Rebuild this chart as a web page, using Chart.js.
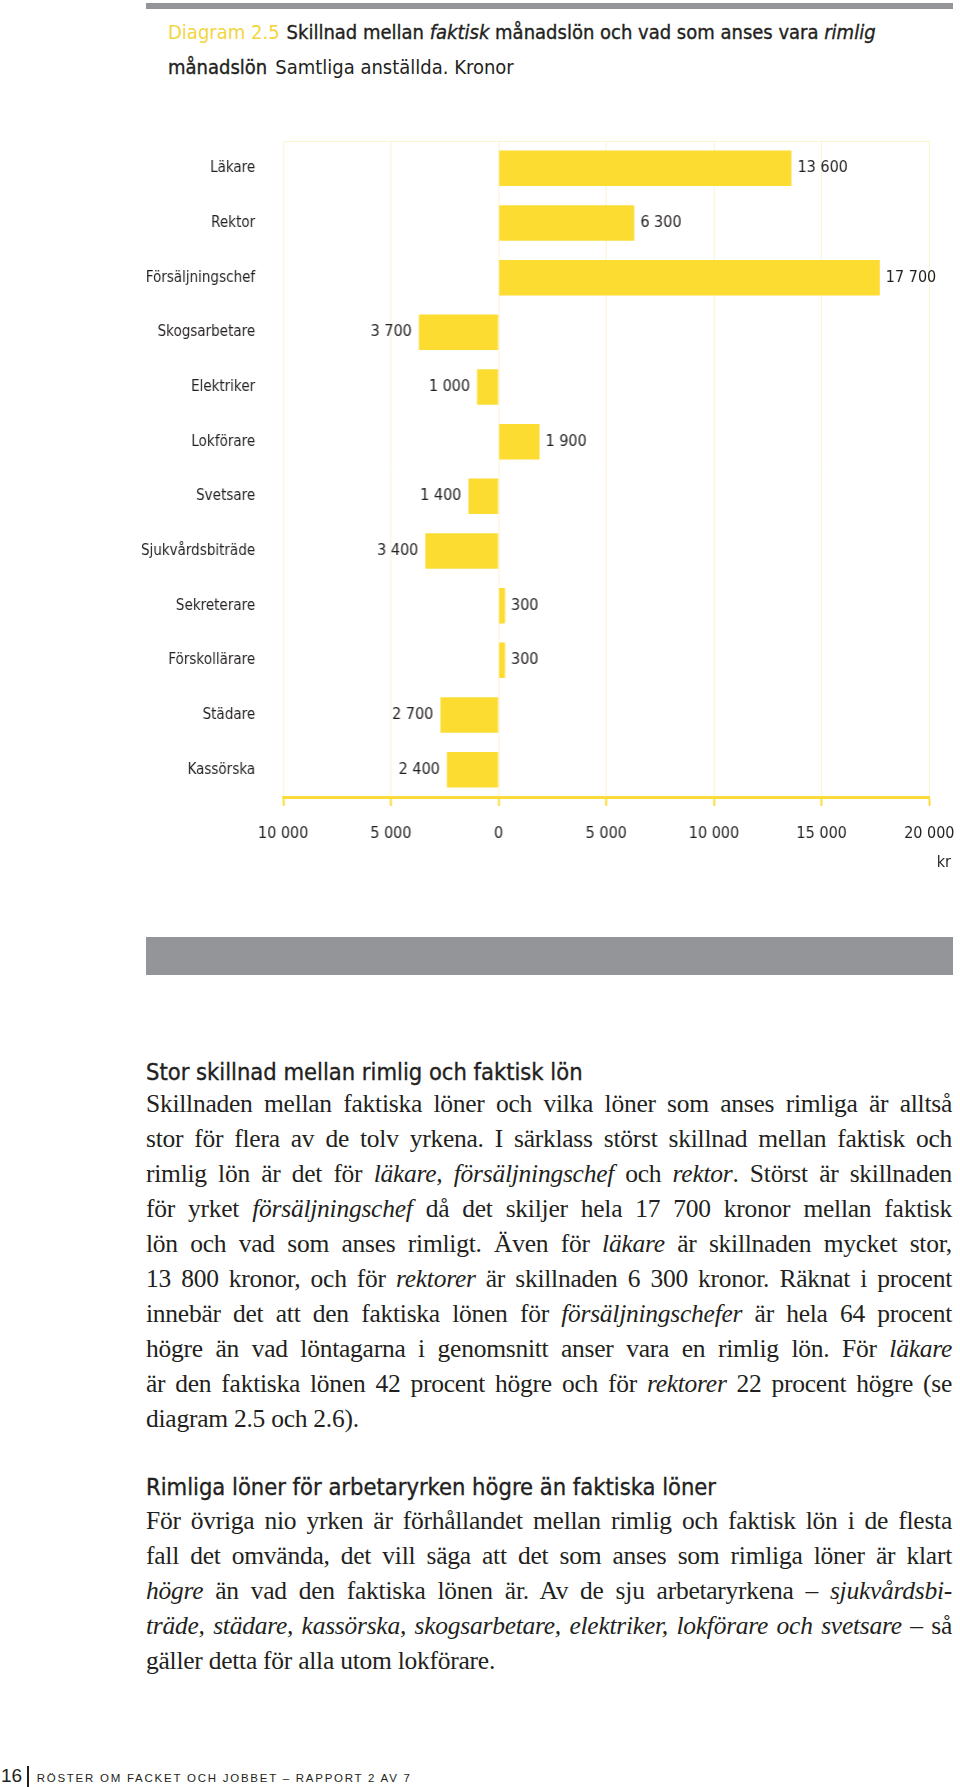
<!DOCTYPE html>
<html lang="sv">
<head>
<meta charset="utf-8">
<title>Diagram 2.5</title>
<script src="https://cdn.jsdelivr.net/npm/chart.js@4.4.0/dist/chart.umd.min.js"></script>
<style>
  html, body { margin: 0; padding: 0; background: #fff; }
  body {
    width: 960px; height: 1787px; position: relative; overflow: hidden;
    font-family: "Liberation Sans Narrow", "DejaVu Sans Condensed", "Liberation Sans", sans-serif;
    color: #231f20;
  }
  .bar-top { position: absolute; left: 146px; top: 3px; width: 807px; height: 6px; background: #939598; }
  .bar-mid { position: absolute; left: 146px; top: 937px; width: 807px; height: 38px; background: #939598; }
  .title { position: absolute; left: 168px; top: 15px; font-size: 20px; line-height: 35px; white-space: nowrap; }
  .title .num { color: #f3d53e; margin-right: 7px; }
  .title .strong { color: #231f20; -webkit-text-stroke: 0.35px #231f20; }
  .title .sub { margin-left: 8px; }
  .chart-wrap { position: absolute; left: 100px; top: 100px; width: 871.5px; height: 790px; }
  .unit { position: absolute; right: 9px; top: 852px; font-size: 16px; }
  .head { position: absolute; left: 146px; font-size: 23.5px; line-height: 35px; white-space: nowrap; color: #231f20; -webkit-text-stroke: 0.35px #231f20; }
  .body { position: absolute; left: 146px; width: 806px; font-family: "Liberation Serif", "DejaVu Serif", serif; font-size: 25.5px; letter-spacing: -0.25px; line-height: 35px; color: #231f20; }
  .body div { white-space: nowrap; text-align: justify; text-align-last: justify; }
  .body div.last { text-align-last: left; }
  .footer { position: absolute; left: 1px; top: 1763px; font-size: 11.5px; line-height: 26px; white-space: nowrap; color: #231f20; font-family: "Liberation Sans", sans-serif; }
  .footer .page { font-size: 19px; }
  .footer .sep { display: inline-block; width: 1.5px; height: 22px; background: #231f20; vertical-align: -6px; margin: 0 8px 0 5px; }
  .footer .run { letter-spacing: 1.75px; }
</style>
</head>
<body>
<div class="bar-top"></div>
<div class="title">
  <div><span class="num">Diagram 2.5</span><span class="strong">Skillnad mellan <i>faktisk</i> månadslön och vad som anses vara <i>rimlig</i></span></div>
  <div><span class="strong">månadslön</span><span class="sub">Samtliga anställda. Kronor</span></div>
</div>

<div class="chart-wrap"><canvas id="diffChart"></canvas></div>
<div class="unit">kr</div>

<div class="bar-mid"></div>

<div class="head" style="top:1055px">Stor skillnad mellan rimlig och faktisk lön</div>
<div class="body" style="top:1086px">
  <div>Skillnaden mellan faktiska löner och vilka löner som anses rimliga är alltså</div>
  <div>stor för flera av de tolv yrkena. I särklass störst skillnad mellan faktisk och</div>
  <div>rimlig lön är det för <i>läkare, försäljningschef</i> och <i>rektor</i>. Störst är skillnaden</div>
  <div>för yrket <i>försäljningschef</i> då det skiljer hela 17 700 kronor mellan faktisk</div>
  <div>lön och vad som anses rimligt. Även för <i>läkare</i> är skillnaden mycket stor,</div>
  <div>13 800 kronor, och för <i>rektorer</i> är skillnaden 6 300 kronor. Räknat i procent</div>
  <div>innebär det att den faktiska lönen för <i>försäljningschefer</i> är hela 64 procent</div>
  <div>högre än vad löntagarna i genomsnitt anser vara en rimlig lön. För <i>läkare</i></div>
  <div>är den faktiska lönen 42 procent högre och för <i>rektorer</i> 22 procent högre (se</div>
  <div class="last">diagram 2.5 och 2.6).</div>
</div>

<div class="head" style="top:1470px">Rimliga löner för arbetaryrken högre än faktiska löner</div>
<div class="body" style="top:1503px">
  <div>För övriga nio yrken är förhållandet mellan rimlig och faktisk lön i de flesta</div>
  <div>fall det omvända, det vill säga att det som anses som rimliga löner är klart</div>
  <div><i>högre</i> än vad den faktiska lönen är. Av de sju arbetaryrkena – <i>sjukvårdsbi-</i></div>
  <div><i>träde, städare, kassörska, skogsarbetare, elektriker, lokförare och svetsare</i> – så</div>
  <div class="last">gäller detta för alla utom lokförare.</div>
</div>

<div class="footer"><span class="page">16</span><span class="sep"></span><span class="run">RÖSTER OM FACKET OCH JOBBET – RAPPORT 2 AV 7</span></div>

<script>
// Yrken (uppifrån och ned)
const yrken = [
  "Läkare", "Rektor", "Försäljningschef", "Skogsarbetare", "Elektriker", "Lokförare",
  "Svetsare", "Sjukvårdsbiträde", "Sekreterare", "Förskollärare", "Städare", "Kassörska"
];

// Skillnad faktisk minus rimlig månadslön, kronor (negativ = rimlig lön högre)
const skillnad = [13600, 6300, 17700, -3700, -1000, 1900, -1400, -3400, 300, 300, -2700, -2400];

// X-axelns skala
const axelMin = -10000;
const axelMax = 20000;
const axelSteg = 5000;

const chartFont = '"Liberation Sans Narrow", "DejaVu Sans Condensed", "Liberation Sans", sans-serif';
const gul = "#fddc32";
const gulAxel = "#f9dc3c";
const gulRutnat = "#fcf3cf";

// 13600 -> "13 600"
function formatKr(n) {
  return String(n).replace(/\B(?=(\d{3})+(?!\d))/g, " ");
}

// Draw the value next to each bar end
const barLabels = {
  id: "barLabels",
  afterDatasetsDraw(chart) {
    const ctx = chart.ctx;
    const meta = chart.getDatasetMeta(0);
    ctx.save();
    ctx.font = "16px " + chartFont;
    ctx.fillStyle = "#231f20";
    ctx.textBaseline = "middle";
    meta.data.forEach((bar, i) => {
      const v = skillnad[i];
      const txt = formatKr(Math.abs(v));
      if (v >= 0) {
        ctx.textAlign = "left";
        ctx.fillText(txt, bar.x + 6, bar.y);
      } else {
        ctx.textAlign = "right";
        ctx.fillText(txt, bar.x - 7, bar.y);
      }
    });
    ctx.restore();
  },
};

Chart.defaults.font.family = chartFont;
Chart.defaults.color = "#231f20";

const ctx = document.getElementById("diffChart").getContext("2d");
new Chart(ctx, {
  type: "bar",
  data: {
    labels: yrken,
    datasets: [
      {
        data: skillnad,
        backgroundColor: gul,
        borderWidth: 0,
        barPercentage: 0.65,
        categoryPercentage: 1,
      },
    ],
  },
  options: {
    indexAxis: "y",
    responsive: true,
    maintainAspectRatio: false,
    animation: false,
    layout: { padding: { top: 41, right: 0, left: 0, bottom: 0 } },
    plugins: {
      legend: { display: false },
      tooltip: { enabled: false },
    },
    scales: {
      x: {
        position: "bottom",
        min: axelMin,
        max: axelMax,
        ticks: {
          stepSize: axelSteg,
          padding: 18,
          font: { size: 16 },
          color: "#231f20",
          callback: (v) => formatKr(Math.abs(v)),
        },
        grid: {
          color: gulRutnat,
          lineWidth: 1,
          drawTicks: true,
          tickLength: 9,
          tickColor: gulAxel,
          tickWidth: 2,
        },
        border: { display: true, color: gulAxel, width: 3 },
        afterFit: (scale) => { scale.height = 93; },
      },
      xTop: {
        position: "top",
        axis: "x",
        min: axelMin,
        max: axelMax,
        ticks: { display: false },
        grid: { display: false, drawTicks: false },
        border: { display: true, color: gulRutnat, width: 1 },
        afterFit: (scale) => { scale.height = 0; },
      },
      y: {
        ticks: {
          padding: 28,
          font: { size: 15 },
          color: "#231f20",
        },
        grid: { display: false, drawTicks: false },
        border: { display: false },
        afterFit: (scale) => { scale.width = 183; },
      },
    },
  },
  plugins: [barLabels],
});
</script>
</body>
</html>
